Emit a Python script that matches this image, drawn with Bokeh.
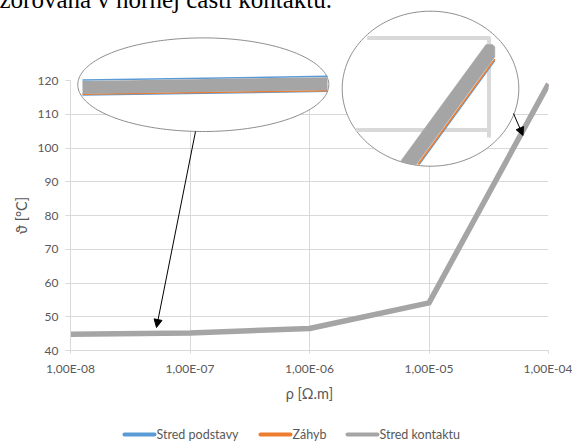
import numpy as np
from bokeh.plotting import figure
from bokeh.models import Range1d, FixedTicker, CustomJSTickFormatter, Arrow, NormalHead
from bokeh.embed import file_html
from bokeh.resources import INLINE
from bokeh.core.properties import value

# ---------------- data ----------------
rho = [1e-8, 1e-7, 1e-6, 1e-5, 1e-4]
stred_podstavy = [44.6, 45.0, 46.3, 53.9, 118.8]
zahyb = [44.7, 45.1, 46.4, 54.0, 118.9]
stred_kontaktu = [44.8, 45.2, 46.5, 54.1, 119.0]
series_names = ["Stred podstavy", "Záhyb", "Stred kontaktu"]
series_colors = ["#5b9bd5", "#ed7d31", "#a5a5a5"]
x_ticks = [1e-8, 1e-7, 1e-6, 1e-5, 1e-4]
x_tick_labels = ["1,00E-08", "1,00E-07", "1,00E-06", "1,00E-05", "1,00E-04"]
y_ticks = [40, 50, 60, 70, 80, 90, 100, 110, 120]
x_title = "ρ [Ω.m]"
y_title = "ϑ [°C]"
caption = "zorovaná v hornej časti kontaktu."

W, H = 572, 441
FONT = "Lato"
TXT = "#595959"
GRID = "#d9d9d9"
FX0, FX1, FY0, FY1 = 70.0, 548.0, 350.0, 80.0   # plot-area edges (px)

p = figure(width=W, height=H, x_axis_type="log",
           x_range=Range1d(x_ticks[0], x_ticks[-1]), y_range=Range1d(y_ticks[0], y_ticks[-1]),
           output_backend="svg", toolbar_location=None,
           min_border_left=int(FX0), min_border_right=int(W - FX1),
           min_border_top=int(FY1), min_border_bottom=int(H - FY0))
p.outline_line_color = None
p.background_fill_color = "white"
p.border_fill_color = "white"

# axes
p.xaxis.ticker = FixedTicker(ticks=x_ticks)
p.xaxis.formatter = CustomJSTickFormatter(args=dict(labs=x_tick_labels, tvals=x_ticks), code="""
let best = 0;
for (let i = 0; i < tvals.length; i++) {
  if (Math.abs(Math.log10(tvals[i]) - Math.log10(tick)) < Math.abs(Math.log10(tvals[best]) - Math.log10(tick))) best = i;
}
return labs[best];
""")
p.yaxis.ticker = FixedTicker(ticks=y_ticks)
for ax in (p.xaxis[0], p.yaxis[0]):
    ax.axis_line_color = GRID
    ax.major_tick_line_color = GRID
    ax.major_tick_in = 0
    ax.minor_tick_line_color = None
    ax.major_label_text_font = FONT
    ax.major_label_text_font_size = "12px"
    ax.major_label_text_color = TXT
    ax.axis_label_text_font = FONT
    ax.axis_label_text_font_size = "14.5px"
    ax.axis_label_text_font_style = "normal"
    ax.axis_label_text_color = TXT
p.yaxis.major_tick_out = 5
p.yaxis.major_label_standoff = 7
p.xaxis.major_tick_out = 3
p.xaxis.major_label_standoff = 7
p.xaxis.axis_label = x_title
p.yaxis.axis_label = y_title
p.xaxis.axis_label_standoff = 6
p.yaxis.axis_label_standoff = 5
p.xgrid.grid_line_color = GRID
p.ygrid.grid_line_color = GRID
p.xgrid.minor_grid_line_color = None

# data lines
p.line(rho, stred_podstavy, line_color=series_colors[0], line_width=2.25, line_join="round")
p.line(rho, zahyb, line_color=series_colors[1], line_width=2.25, line_join="round")
p.line(rho, stred_kontaktu, line_color=series_colors[2], line_width=5.5, line_join="round")

# ---- helpers: pixel -> data coordinates (for decorative insets) ----
def dx(px):
    lo, hi = np.log10(x_ticks[0]), np.log10(x_ticks[-1])
    return 10 ** (lo + (hi - lo) * (np.asarray(px, dtype=float) - FX0) / (FX1 - FX0))
def dy(py):
    return y_ticks[0] + (y_ticks[-1] - y_ticks[0]) * (FY0 - np.asarray(py, dtype=float)) / (FY0 - FY1)

def ellipse(cx, cy, a, b):
    t = np.linspace(0, 2 * np.pi, 240)
    p.patch(dx(cx + a * np.cos(t)), dy(cy + b * np.sin(t)), fill_color="white",
            line_color="#8c8c8c", line_width=1, level="overlay")

def seg(x0, y0, x1, y1, color, width, cap="butt"):
    p.line(dx([x0, x1]), dy([y0, y1]), line_color=color, line_width=width, line_cap=cap, level="overlay")

def poly(xs, ys, color):
    p.patch(dx(xs), dy(ys), fill_color=color, line_color=color, line_width=0.5, level="overlay")

def txt(x, y, s, font, size, color, baseline="middle"):
    p.text(x=[float(dx(x))], y=[float(dy(y))], text=[s], text_font=value(font), text_font_size=value(size),
           text_color=color, text_baseline=baseline, text_align="left", level="overlay")

# inset 1 (zoom of the left part)
ellipse(202.8, 84.2, 125.5, 46.8)
seg(82, 79.6, 327, 75.8, series_colors[0], 1.5)
seg(82, 94.6, 327, 91.0, series_colors[0], 1.2)
seg(82, 93.8, 327, 90.2, series_colors[1], 1.5)
seg(82, 87.0, 327, 83.2, series_colors[2], 13)

# inset 2 (zoom of the right end)
ellipse(430.0, 88.2, 88.3, 77.5)
seg(366.7, 37.5, 490.0, 37.5, GRID, 4)
seg(488.5, 37.5, 488.5, 137.0, GRID, 4)
seg(355.0, 129.5, 488.5, 129.5, GRID, 4)
seg(494.3, 60.2, 418.8, 163.8, series_colors[0], 1.3)
seg(494.3, 58.6, 417.5, 164.0, series_colors[1], 1.6)
poly([485.5, 492.0, 494.3, 494.3, 415.7, 408.0, 399.9],
     [44.0, 44.0, 46.5, 56.5, 164.2, 163.2, 161.1], series_colors[2])

# arrows
for (x0, y0, x1, y1) in [(195, 131, 156, 327), (513, 113, 522.5, 135)]:
    p.add_layout(Arrow(end=NormalHead(size=8, fill_color="black", line_color="black", line_width=1),
                       x_start=float(dx(x0)), y_start=float(dy(y0)), x_end=float(dx(x1)), y_end=float(dy(y1)),
                       line_color="black", line_width=1, level="overlay"))

# legend (manual, Excel-like)
LEG_Y = 434
for name, color, (lx0, lx1) in zip(series_names, series_colors, [(124, 154), (260, 290), (347, 377)]):
    seg(lx0, LEG_Y, lx1, LEG_Y, color, 4, cap="round")
    txt(lx1 + 2, LEG_Y, name, FONT, "12.5px", TXT)

# cropped caption at top (the reference image cuts it off)
txt(-1, -1.5, caption, "Liberation Serif", "25px", "black")

open("out.html", "w").write(file_html(p, INLINE))
